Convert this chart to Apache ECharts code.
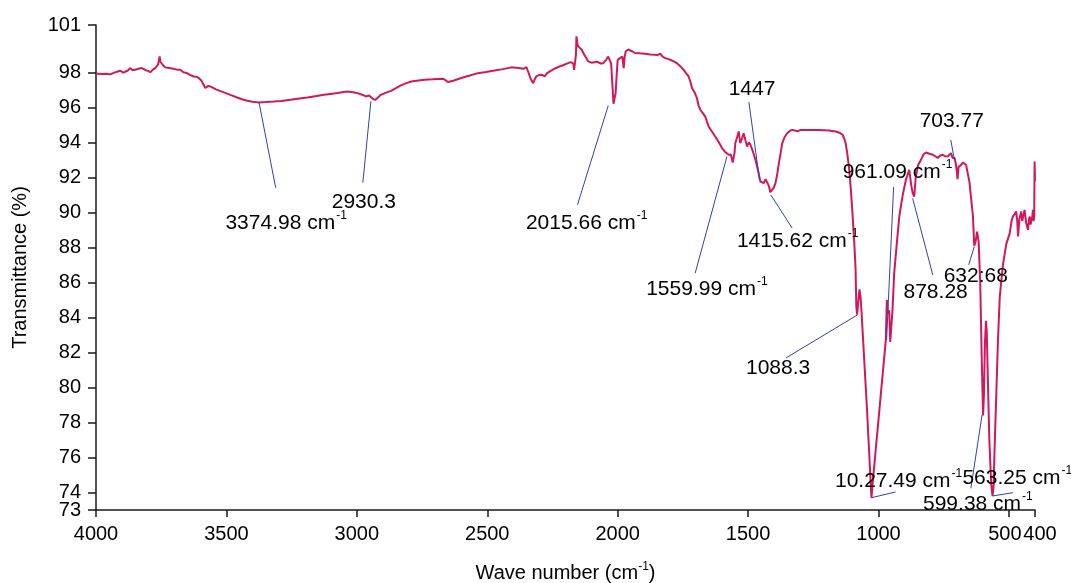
<!DOCTYPE html>
<html>
<head>
<meta charset="utf-8">
<title>FTIR spectrum</title>
<script src="https://cdn.jsdelivr.net/npm/echarts@6/dist/echarts.min.js"></script>
<style>
  html, body { margin: 0; padding: 0; background: #ffffff; }
  #chart { width: 1071px; height: 583px; }
</style>
</head>
<body>
<div id="chart"></div>
<script>
// Spectrum samples: wave number (cm-1) and transmittance (%)
const wavenumber = [
  4000, 3980, 3960, 3946, 3930, 3908, 3895, 3888, 3878, 3869, 3860, 3850, 3838, 3824, 3810, 3800,
  3792, 3782, 3773, 3762, 3756, 3753, 3751, 3743, 3735, 3720, 3703, 3690, 3677, 3665, 3651, 3640,
  3626, 3615, 3606, 3595, 3585, 3581, 3570, 3562, 3540, 3510, 3480, 3459, 3440, 3420, 3400, 3375,
  3350, 3318, 3290, 3254, 3220, 3190, 3160, 3126, 3100, 3074, 3050, 3036, 3015, 2997, 2980, 2965,
  2953, 2940, 2930, 2920, 2908, 2890, 2869, 2850, 2831, 2810, 2792, 2770, 2741, 2710, 2690, 2670,
  2660, 2651, 2630, 2600, 2570, 2536, 2505, 2472, 2440, 2408, 2380, 2360, 2350, 2340, 2333, 2324,
  2318, 2312, 2300, 2292, 2280, 2270, 2260, 2245, 2228, 2210, 2190, 2180, 2177, 2170, 2167, 2162,
  2160, 2158, 2154, 2151, 2145, 2138, 2128, 2120, 2113, 2100, 2093, 2080, 2074, 2064, 2055, 2045,
  2036, 2030, 2025, 2021, 2016, 2012, 2008, 2004, 2000, 1991, 1982, 1977, 1973, 1969, 1960, 1953,
  1945, 1934, 1915, 1895, 1875, 1857, 1847, 1837, 1828, 1818, 1805, 1792, 1782, 1773, 1760, 1747,
  1738, 1728, 1720, 1715, 1705, 1696, 1690, 1683, 1675, 1664, 1658, 1651, 1640, 1626, 1612, 1600,
  1588, 1574, 1566, 1562, 1559, 1555, 1552, 1549, 1542, 1536, 1530, 1524, 1517, 1510, 1504, 1497,
  1491, 1482, 1472, 1462, 1453, 1447, 1440, 1433, 1427, 1420, 1415, 1408, 1402, 1395, 1388, 1382,
  1375, 1369, 1360, 1350, 1340, 1331, 1320, 1312, 1300, 1267, 1230, 1190, 1164, 1150, 1138, 1132,
  1126, 1120, 1113, 1106, 1100, 1093, 1088, 1085, 1082, 1078, 1073, 1069, 1065, 1045, 1027, 1022,
  972, 968, 964, 959, 955, 952, 946, 940, 930, 920, 907, 895, 882, 875, 869, 863,
  857, 848, 837, 828, 818, 805, 792, 782, 773, 763, 754, 745, 735, 722, 716, 713,
  708, 704, 701, 697, 693, 686, 683, 676, 670, 664, 658, 651, 645, 638, 633, 628,
  622, 616, 610, 604, 599, 596, 592, 588, 585, 580, 575, 568, 563, 559, 555, 548,
  542, 535, 523, 510, 497, 490, 485, 478, 472, 468, 465, 460, 453, 449, 446, 440,
  434, 427, 423, 420, 417, 414, 410, 408, 405, 403, 401.5, 400
];
const transmittance = [
  97.93, 97.90, 97.92, 97.88, 97.98, 98.09, 97.98, 97.90, 98.10, 98.24, 98.12, 98.14, 98.20, 98.24, 98.12, 98.08,
  98.00, 98.15, 98.24, 98.45, 98.90, 98.60, 98.52, 98.40, 98.28, 98.25, 98.20, 98.15, 98.14, 98.00, 97.95, 97.85,
  97.76, 97.75, 97.67, 97.50, 97.22, 97.10, 97.22, 97.19, 97.02, 96.85, 96.68, 96.56, 96.46, 96.37, 96.32, 96.28,
  96.30, 96.33, 96.36, 96.43, 96.50, 96.56, 96.63, 96.71, 96.76, 96.81, 96.87, 96.90, 96.86, 96.81, 96.72, 96.62,
  96.67, 96.50, 96.42, 96.55, 96.71, 96.82, 96.94, 97.10, 97.25, 97.38, 97.47, 97.52, 97.57, 97.60, 97.62, 97.63,
  97.55, 97.44, 97.52, 97.67, 97.80, 97.95, 98.02, 98.10, 98.18, 98.28, 98.25, 98.20, 98.30, 97.90, 97.60, 97.38,
  97.60, 97.76, 97.85, 97.86, 97.76, 97.95, 98.05, 98.18, 98.30, 98.40, 98.52, 98.58, 98.67, 98.50, 98.14, 98.05,
  99.00, 100.05, 99.60, 99.48, 99.40, 99.29, 99.00, 98.80, 98.62, 98.55, 98.52, 98.60, 98.62, 98.50, 98.52, 98.70,
  98.90, 99.00, 98.50, 97.50, 96.20, 96.30, 96.80, 97.80, 98.71, 98.81, 98.90, 98.24, 98.90, 99.19, 99.30, 99.32,
  99.20, 99.10, 99.08, 99.06, 99.02, 99.00, 98.98, 99.06, 98.90, 98.81, 98.75, 98.67, 98.60, 98.52, 98.35, 98.14,
  97.95, 97.76, 97.40, 97.10, 96.85, 96.52, 96.10, 95.86, 95.70, 95.47, 95.20, 94.90, 94.65, 94.33, 94.00, 93.67,
  93.45, 93.29, 93.30, 93.38, 92.85, 92.81, 93.40, 93.95, 94.30, 94.62, 93.95, 94.20, 94.52, 94.10, 93.76, 94.00,
  93.86, 93.50, 93.00, 92.40, 91.76, 91.70, 91.67, 91.90, 91.95, 91.50, 91.15, 91.19, 91.40, 91.67, 92.20, 92.81,
  93.40, 93.95, 94.30, 94.52, 94.65, 94.71, 94.68, 94.62, 94.70, 94.71, 94.70, 94.67, 94.62, 94.55, 94.43, 94.25,
  93.95, 93.40, 92.55, 91.30, 90.00, 88.30, 86.80, 84.60, 84.15, 84.80, 85.60, 85.20, 84.30, 79.00, 73.70, 74.60,
  82.70, 85.00, 84.20, 84.40, 82.60, 82.50, 84.50, 86.50, 88.20, 89.80, 91.00, 91.86, 92.43, 91.60, 91.10, 90.90,
  92.05, 92.70, 93.00, 93.30, 93.42, 93.35, 93.29, 93.20, 93.10, 93.25, 93.29, 93.20, 93.19, 93.38, 93.10, 93.00,
  93.10, 92.80, 92.50, 91.90, 92.60, 92.70, 92.71, 92.85, 92.90, 92.70, 92.24, 91.70, 90.80, 89.80, 88.10, 88.30,
  88.90, 88.30, 86.00, 81.50, 78.40, 79.50, 82.50, 83.80, 83.20, 80.00, 77.00, 74.50, 73.80, 74.30, 76.50, 79.80,
  82.70, 85.20, 87.00, 88.20, 88.80, 89.50, 89.76, 89.90, 90.05, 89.50, 88.62, 89.60, 90.05, 89.50, 89.60, 90.14,
  89.40, 89.00, 89.60, 89.76, 89.30, 89.19, 89.80, 90.14, 89.50, 89.80, 92.90, 91.80
];

// Axis ticks (the lowest transmittance tick sits on its own axis so it is never thinned out)
const xTicks = [4000, 3500, 3000, 2500, 2000, 1500, 1000, 500, 400];
const yTicks = [74, 76, 78, 80, 82, 84, 86, 88, 90, 92, 94, 96, 98, 100.7];
const yBaseTick = [73];

// Band annotations: label text, point on the curve, end of the leader line
const peakText = ['3374.98', '2930.3', '2015.66', '1559.99', '1447', '1415.62', '1088.3',
                  '10.27.49', '961.09', '878.28', '703.77', '632:68', '599.38', '563.25'];
const peakUnit = [true, false, true, true, false, true, false,
                  true, true, false, false, false, true, true];
const peakAt = [[3375, 96.28], [2946, 96.35], [2036, 96.10], [1581, 93.19], [1456, 91.86],
                [1413, 91.00], [1081, 84.14], [1027.5, 73.70], [969, 82.71], [869, 90.80],
                [709, 93.00], [632.7, 88.05], [603, 78.43], [563, 73.80]];
const leaderEnd = [[3311, 91.40], [2977, 91.69], [2154, 90.43], [1703, 86.52], [1497, 96.30],
                   [1331, 89.10], [1354, 81.69], [934.6, 74.03], [942, 91.46], [792, 86.43],
                   [723, 94.14], [654, 87.00], [645.8, 74.24], [484.6, 73.99]];
// Text centres, in axis units
const labelAt = [[3271, 89.46], [2973, 90.66], [2119, 89.46], [1658, 85.69], [1485, 97.11],
                 [1310, 88.43], [1385, 81.17], [923, 74.71], [927, 92.37], [781, 85.51],
                 [719, 95.29], [627, 86.43], [619, 73.40], [468, 74.89]];

const FONT = '"Liberation Sans", Arial, Helvetica, sans-serif';
const INK = '#000000';
const AXIS = '#1a1a1a';
const CURVE = '#d0185a';
const LEADER = '#3340b0';
const Y_MIN = 73;
const Y_MAX = 100.7;

const supRich = {
  t: { fontSize: 21, fontFamily: FONT, color: INK, lineHeight: 24, verticalAlign: 'bottom', textBorderWidth: 0 },
  s: { fontSize: 12, fontFamily: FONT, color: INK, lineHeight: 24, verticalAlign: 'top', padding: [0, 0, 0, 1], textBorderWidth: 0 }
};

const series = [{
  type: 'line',
  name: 'spectrum',
  data: wavenumber.map((w, i) => [w, transmittance[i]]),
  showSymbol: false,
  symbol: 'none',
  lineStyle: { color: CURVE, width: 2 },
  itemStyle: { color: CURVE },
  z: 2,
  silent: true,
  animation: false
}];

peakAt.forEach((p, i) => {
  series.push({
    type: 'line',
    data: [p, leaderEnd[i]],
    showSymbol: false,
    symbol: 'none',
    lineStyle: { color: LEADER, width: 1 },
    z: 3,
    silent: true,
    animation: false
  });
});

series.push({
  type: 'scatter',
  symbolSize: 0,
  z: 4,
  silent: true,
  animation: false,
  clip: false,
  itemStyle: { color: INK, opacity: 1 },
  data: labelAt.map((p, i) => ({ value: p, name: peakText[i], unit: peakUnit[i] })),
  label: {
    show: true,
    position: [0, 0],
    align: 'center',
    verticalAlign: 'middle',
    color: INK,
    opacity: 1,
    textBorderWidth: 0,
    formatter: (prm) => prm.data.unit ? '{t|' + prm.data.name + ' cm}{s|-1}' : '{t|' + prm.data.name + '}',
    rich: supRich
  }
});

const yLabelStyle = {
  hideOverlap: false,
  margin: 15,
  fontSize: 20,
  fontFamily: FONT,
  color: INK,
  formatter: (v) => String(Math.round(v))
};

const chart = echarts.init(document.getElementById('chart'), null, { renderer: 'canvas' });
chart.setOption({
  animation: false,
  backgroundColor: '#ffffff',
  grid: { left: 96, right: 36, top: 25, bottom: 73, containLabel: false, outerBoundsMode: 'none' },
  xAxis: {
    type: 'value',
    min: 400,
    max: 4000,
    inverse: true,
    name: '{n|Wave number (cm}{s|-1}{n|)}',
    nameLocation: 'middle',
    nameGap: 51,
    nameTextStyle: {
      rich: {
        n: { fontSize: 20, fontFamily: FONT, color: INK, lineHeight: 22, verticalAlign: 'bottom' },
        s: { fontSize: 12, fontFamily: FONT, color: INK, lineHeight: 22, verticalAlign: 'top' }
      }
    },
    axisLine: { show: true, onZero: false, lineStyle: { color: AXIS, width: 1.5 } },
    axisTick: { show: true, inside: false, length: 7, customValues: xTicks, lineStyle: { color: AXIS, width: 1.5 } },
    axisLabel: {
      customValues: xTicks,
      hideOverlap: false,
      margin: 14,
      fontSize: 20,
      fontFamily: FONT,
      color: INK,
      formatter: (v) => v === 500 ? '{l|500}' : (v === 400 ? '{r|400}' : String(v)),
      rich: {
        l: { fontSize: 20, fontFamily: FONT, color: INK, padding: [0, 8, 0, 0] },
        r: { fontSize: 20, fontFamily: FONT, color: INK, padding: [0, 0, 0, 10] }
      }
    },
    splitLine: { show: false }
  },
  yAxis: [{
    type: 'value',
    min: Y_MIN,
    max: Y_MAX,
    position: 'left',
    name: 'Transmittance (%)',
    nameLocation: 'middle',
    nameGap: 66,
    nameTextStyle: { fontSize: 20, fontFamily: FONT, color: INK },
    axisLine: { show: true, onZero: false, lineStyle: { color: AXIS, width: 1.5 } },
    axisTick: { show: true, inside: false, length: 8, customValues: yTicks, lineStyle: { color: AXIS, width: 1.5 } },
    axisLabel: Object.assign({ customValues: yTicks }, yLabelStyle),
    splitLine: { show: false }
  }, {
    type: 'value',
    min: Y_MIN,
    max: Y_MAX,
    position: 'left',
    offset: 0,
    axisLine: { show: false },
    axisTick: { show: true, inside: false, length: 8, customValues: yBaseTick, lineStyle: { color: AXIS, width: 1.5 } },
    axisLabel: Object.assign({ customValues: yBaseTick }, yLabelStyle),
    splitLine: { show: false }
  }],
  series: series
});
</script>
</body>
</html>
